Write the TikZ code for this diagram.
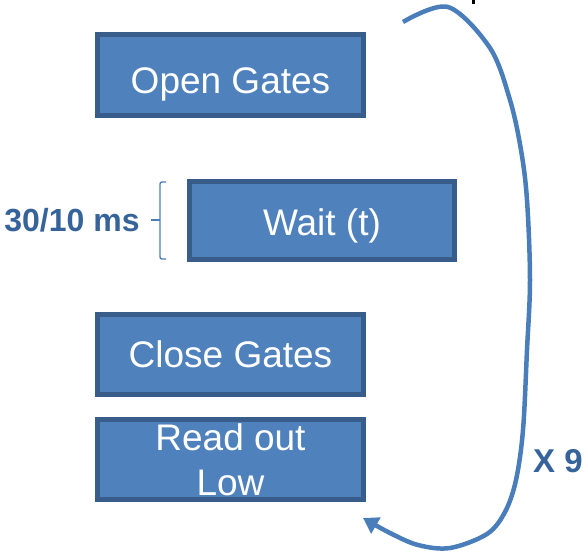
\documentclass[tikz,border=0pt]{standalone}
\usepackage{fontspec}
\setmainfont{Liberation Sans}
\usetikzlibrary{arrows.meta}
\definecolor{boxfill}{HTML}{4F81BD}
\definecolor{boxline}{HTML}{385D8A}
\definecolor{labelblue}{HTML}{36649A}
\definecolor{loopblue}{HTML}{4A7EBB}
% lower a label inside its box without changing the box size
\newcommand{\shiftdown}[2]{\raisebox{-#1}[\height][\depth]{#2}}
\tikzset{
  stepbox/.style={draw=boxline, line width=5pt, fill=boxfill, text=white,
    minimum width=266pt, minimum height=80pt, inner sep=0pt, align=center,
    font=\fontsize{37}{45}\selectfont},
  sidelabel/.style={text=labelblue, inner sep=0pt,
    font=\fontsize{32}{36}\selectfont\bfseries},
}
\begin{document}
\begin{tikzpicture}[x=1pt, y=-1pt]
  \useasboundingbox (0,0) rectangle (584,552);

  % sequence steps
  \node[stepbox, minimum height=81pt] (open)  at (230.5,75)    {\shiftdown{9pt}{Open Gates}};
  \node[stepbox, minimum width=265pt, minimum height=78pt] (wait) at (322,220.5) {\shiftdown{5pt}{Wait (t)}};
  \node[stepbox] (close) at (230.5,354.5) {Close Gates};
  \node[stepbox] (read)  at (230.5,459.5) {Read out\\Low};

  % timing bracket beside the wait step
  \node[sidelabel] (time) at (72,220) {30/10 ms};
  \coordinate (brtop) at (166,182);
  \coordinate (brbot) at (166,259);
  \coordinate (brmid) at (160,220);
  \draw[loopblue, line width=1.4pt, rounded corners=2pt]
    (brtop) -- (160,182) -- (brmid) -- (160,259) -- (brbot);
  \draw[loopblue, line width=1.4pt] (brmid) -- (time.east -| 151,220);

  % loop arrow
  \coordinate (loopstart) at (403,22);
  \coordinate (loopend) at (363,518);
  \draw[loopblue, line width=4.5pt, -{Triangle[length=15pt, width=18pt]}]
    plot[smooth, tension=0.55] coordinates {(loopstart) (448,7) (490,48) (510,100)
      (521,150) (527,200) (530,280) (527,350) (523,430) (516,480) (505,512)
      (487,534) (450,548) (418,545) (390,533) (loopend)};
  \node[sidelabel, font=\fontsize{33}{36}\selectfont\bfseries] (reps) at (558,461) {X 9};

  % descender of a caption above the frame
  \fill[black] (472,0) rectangle (474.5,4);
\end{tikzpicture}
\end{document}
